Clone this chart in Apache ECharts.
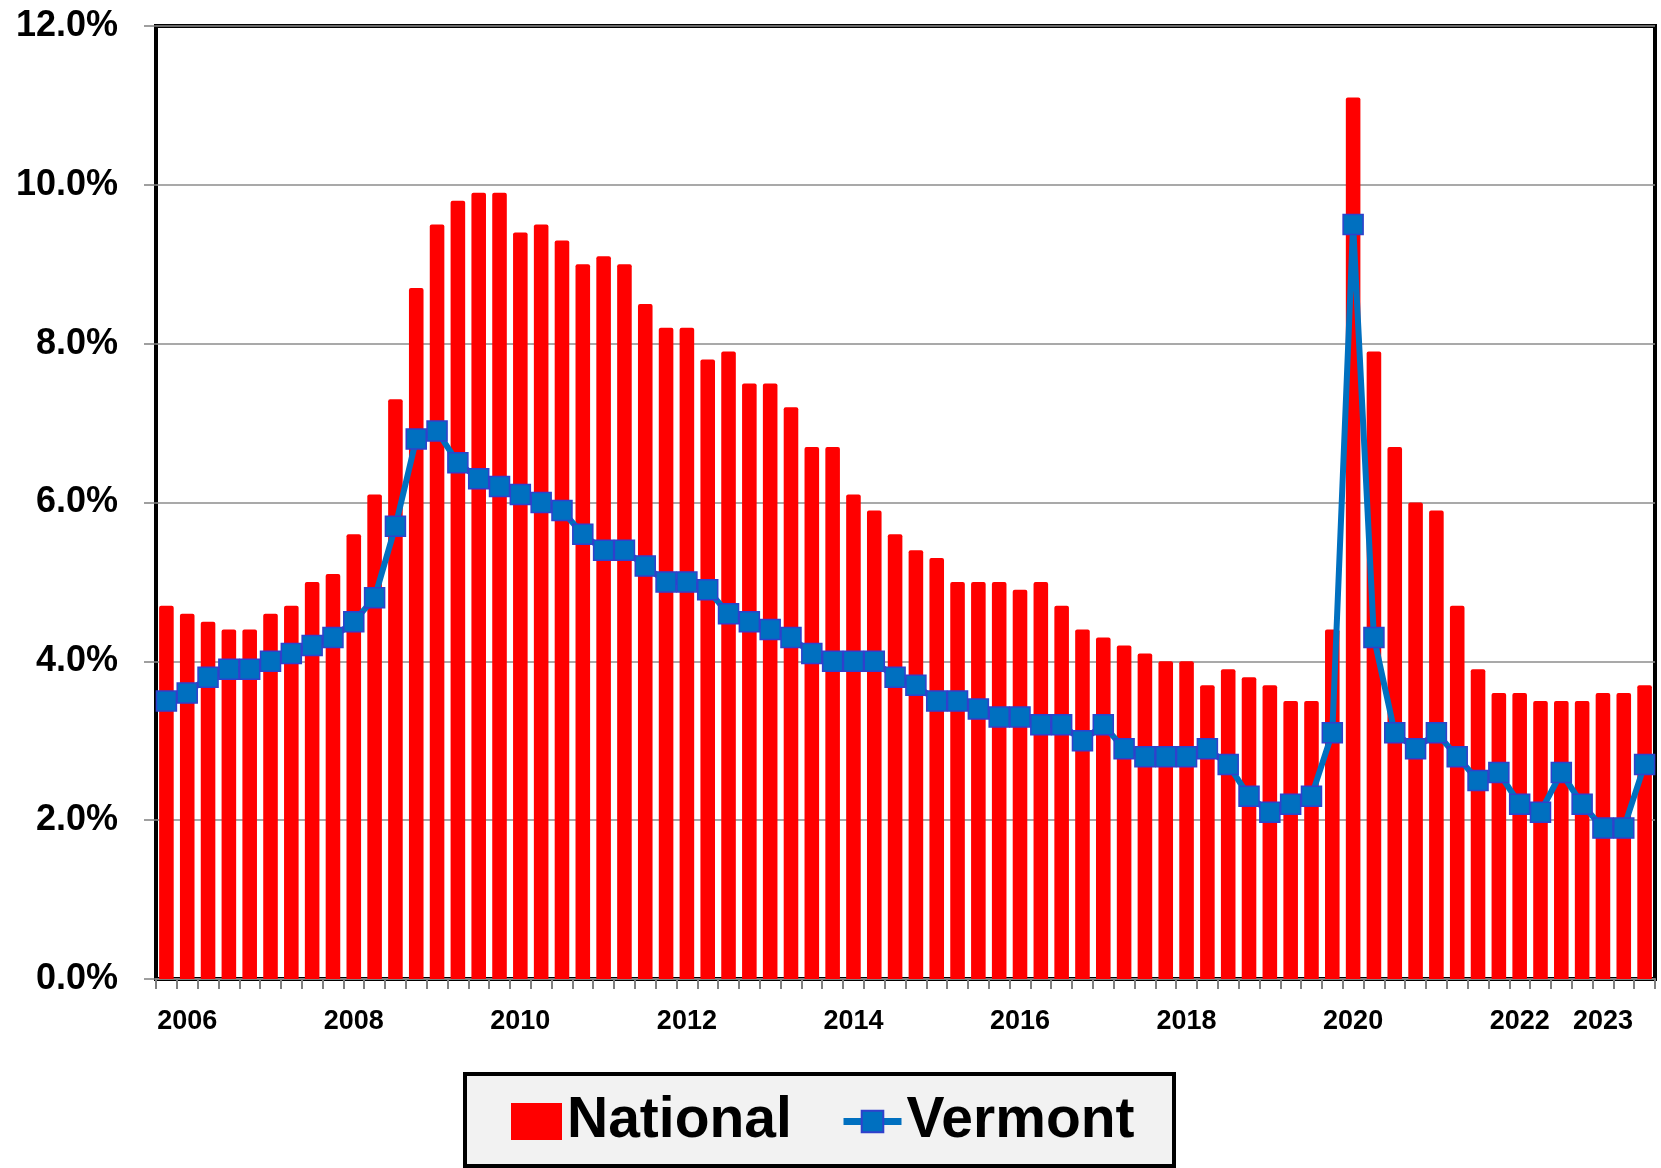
<!DOCTYPE html>
<html>
<head>
<meta charset="utf-8">
<script src="https://cdn.jsdelivr.net/npm/echarts@6/dist/echarts.min.js"></script>
<style>
  html, body { margin: 0; padding: 0; background: #fff; }
  #chart { width: 1661px; height: 1168px; }
</style>
</head>
<body>
<div id="chart"></div>
<script>
// quarters 2006 Q1 .. 2023 Q4
const years = [2006, 2007, 2008, 2009, 2010, 2011, 2012, 2013, 2014,
               2015, 2016, 2017, 2018, 2019, 2020, 2021, 2022, 2023];
const quarters = ['Q1', 'Q2', 'Q3', 'Q4'];
const categories = [];
years.forEach(y => quarters.forEach(q => categories.push(y + ' ' + q)));

// quarters that carry a year label under the axis
const labeledQuarters = ['2006 Q2', '2008 Q2', '2010 Q2', '2012 Q2', '2014 Q2',
                         '2016 Q2', '2018 Q2', '2020 Q2', '2022 Q2', '2023 Q2'];

// unemployment rate, %
const national = [
  4.7, 4.6, 4.5, 4.4, 4.4, 4.6, 4.7, 5.0, 5.1, 5.6,
  6.1, 7.3, 8.7, 9.5, 9.8, 9.9, 9.9, 9.4, 9.5, 9.3,
  9.0, 9.1, 9.0, 8.5, 8.2, 8.2, 7.8, 7.9, 7.5, 7.5,
  7.2, 6.7, 6.7, 6.1, 5.9, 5.6, 5.4, 5.3, 5.0, 5.0,
  5.0, 4.9, 5.0, 4.7, 4.4, 4.3, 4.2, 4.1, 4.0, 4.0,
  3.7, 3.9, 3.8, 3.7, 3.5, 3.5, 4.4, 11.1, 7.9, 6.7,
  6.0, 5.9, 4.7, 3.9, 3.6, 3.6, 3.5, 3.5, 3.5, 3.6,
  3.6, 3.7
];
const vermont = [
  3.5, 3.6, 3.8, 3.9, 3.9, 4.0, 4.1, 4.2, 4.3, 4.5,
  4.8, 5.7, 6.8, 6.9, 6.5, 6.3, 6.2, 6.1, 6.0, 5.9,
  5.6, 5.4, 5.4, 5.2, 5.0, 5.0, 4.9, 4.6, 4.5, 4.4,
  4.3, 4.1, 4.0, 4.0, 4.0, 3.8, 3.7, 3.5, 3.5, 3.4,
  3.3, 3.3, 3.2, 3.2, 3.0, 3.2, 2.9, 2.8, 2.8, 2.8,
  2.9, 2.7, 2.3, 2.1, 2.2, 2.3, 3.1, 9.5, 4.3, 3.1,
  2.9, 3.1, 2.8, 2.5, 2.6, 2.2, 2.1, 2.6, 2.2, 1.9,
  1.9, 2.7
];

const FONT = '"Liberation Sans", Arial, sans-serif';
const chart = echarts.init(document.getElementById('chart'), null, { renderer: 'canvas' });

const option = {
  animation: false,
  backgroundColor: '#fff',
  grid: {
    left: 156, right: 6, top: 26, bottom: 189,
    show: true, borderColor: '#000', borderWidth: 4, backgroundColor: 'transparent'
  },
  graphic: [{
    type: 'rect', z: -10, left: 463, top: 1072,
    shape: { width: 709, height: 92 },
    style: { fill: '#f2f2f2', stroke: '#000', lineWidth: 4 }
  }],
  legend: [{
    data: [{ name: 'National', icon: 'rect' }],
    left: 511, top: 1093, padding: 0,
    itemWidth: 51, itemHeight: 37,
    textStyle: { fontFamily: FONT, fontWeight: 'bold', fontSize: 57, color: '#000', lineHeight: 37 }
  }, {
    data: [{ name: 'Vermont', lineStyle: { width: 7, color: '#0070c0' } }],
    left: 840, top: 1093, padding: 0,
    itemWidth: 58, itemHeight: 27,
    textStyle: { fontFamily: FONT, fontWeight: 'bold', fontSize: 57, color: '#000', lineHeight: 37 }
  }],
  xAxis: {
    type: 'category',
    data: categories,
    boundaryGap: true,
    axisLine: { show: true, lineStyle: { color: '#808080', width: 2 } },
    axisTick: { show: true, interval: 0, length: 10, lineStyle: { color: '#808080', width: 2 } },
    axisLabel: {
      interval: (idx, val) => labeledQuarters.includes(val),
      formatter: v => v.slice(0, 4),
      fontFamily: FONT, fontWeight: 'bold', fontSize: 27, color: '#000', margin: 29
    },
    splitLine: { show: false }
  },
  yAxis: {
    type: 'value',
    min: 0, max: 12, interval: 2,
    axisLine: { show: false },
    axisTick: { show: true, length: 12, lineStyle: { color: '#808080', width: 1.5 } },
    axisLabel: {
      formatter: v => v.toFixed(1) + '%',
      fontFamily: FONT, fontWeight: 'bold', fontSize: 36, color: '#000', margin: 38
    },
    splitLine: { show: true, lineStyle: { color: '#8c8c8c', width: 1.5 } }
  },
  series: [{
    name: 'National',
    type: 'bar',
    data: national,
    barCategoryGap: '30%',
    itemStyle: { color: '#ff0000', borderRadius: [2, 2, 0, 0] }
  }, {
    name: 'Vermont',
    type: 'line',
    data: vermont,
    z: 5,
    symbol: 'rect',
    symbolSize: 20,
    showAllSymbol: true,
    lineStyle: { color: '#0070c0', width: 6 },
    itemStyle: { color: '#0070c0', borderColor: '#3040cc', borderWidth: 1.5 }
  }]
};

chart.setOption(option);
</script>
</body>
</html>
